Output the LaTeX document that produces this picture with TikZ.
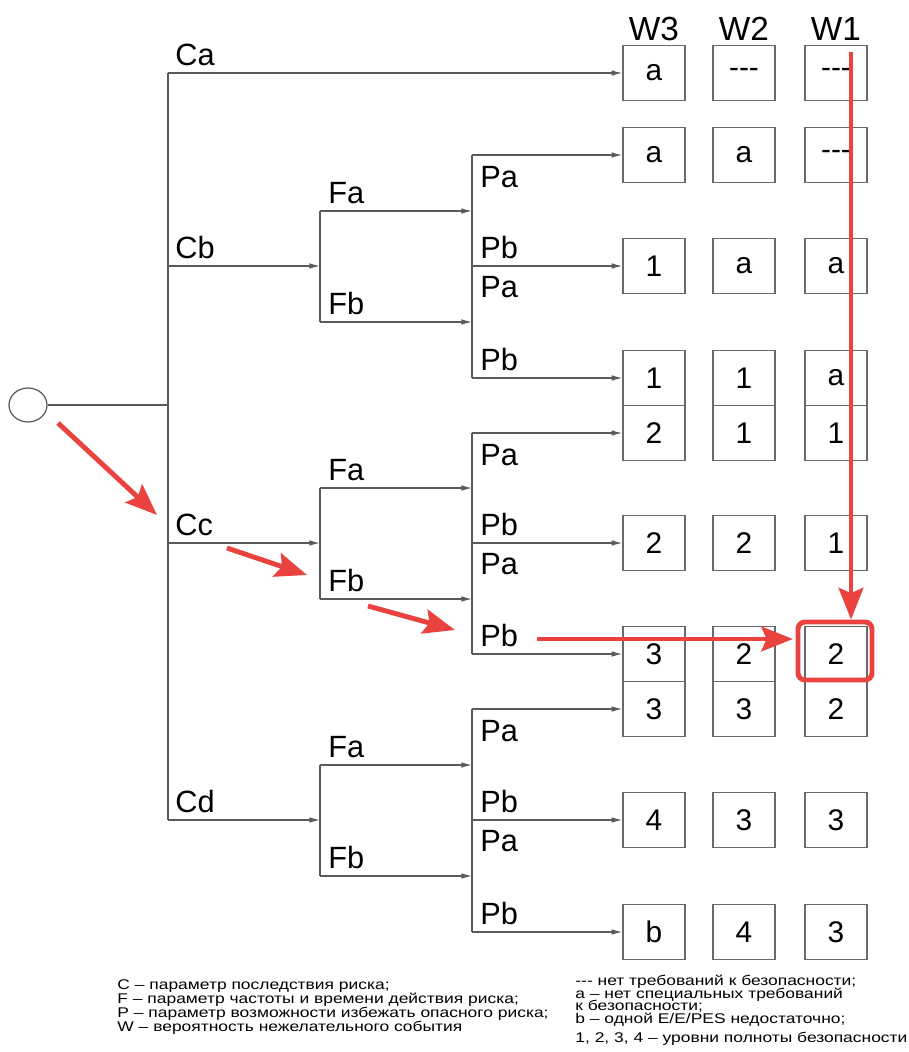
\documentclass[tikz,border=0pt]{standalone}
\usepackage{fontspec}
\setmainfont{Liberation Sans}
\usetikzlibrary{arrows.meta}
\usetikzlibrary{positioning}
\usetikzlibrary{shapes.geometric}

\definecolor{markred}{RGB}{234,66,62}
\definecolor{linegray}{RGB}{90,90,90}
\definecolor{boxgray}{RGB}{105,105,105}

\tikzset{
  branch/.style={draw=linegray, line width=0.7pt},
  branchto/.style={branch, -{Latex[length=6pt,width=3.2pt]}},
  cell/.style={draw=boxgray, line width=0.85pt, minimum width=1.24cm, minimum height=1.1cm, inner sep=0pt, font=\fontsize{17}{17}\selectfont},
  head/.style={inner sep=0pt, font=\fontsize{19}{19}\selectfont},
  tag/.style={inner sep=0pt, anchor=base west, font=\fontsize{17.5}{17.5}\selectfont},
  note/.style={inner sep=0pt, anchor=base west, font=\fontsize{8}{8}\selectfont, xscale=1.24, transform shape},
  hint/.style={draw=markred, line width=2.8pt, -{Stealth[length=18pt,width=14pt,inset=3pt]}},
  hitframe/.style={draw=markred, line width=2.8pt, rounded corners=4pt, minimum width=1.48cm, minimum height=1.16cm, inner sep=0pt},
}

\begin{document}
\begin{tikzpicture}[x=0.02cm,y=-0.02cm]
\useasboundingbox (0,0) rectangle (909,1052);

\node[cell] (r1w3) at (654,73) {a};
\node[cell] (r1w2) at (744,73) {-{}-{}-};
\node[cell] (r1w1) at (836,73) {-{}-{}-};
\node[cell] (r2w3) at (654,155) {a};
\node[cell] (r2w2) at (744,155) {a};
\node[cell] (r2w1) at (836,155) {-{}-{}-};
\node[cell] (r3w3) at (654,266) {1};
\node[cell] (r3w2) at (744,266) {a};
\node[cell] (r3w1) at (836,266) {a};
\node[cell] (r4w3) at (654,378) {1};
\node[cell] (r4w2) at (744,378) {1};
\node[cell] (r4w1) at (836,378) {a};
\node[cell] (r5w3) at (654,433) {2};
\node[cell] (r5w2) at (744,433) {1};
\node[cell] (r5w1) at (836,433) {1};
\node[cell] (r6w3) at (654,543) {2};
\node[cell] (r6w2) at (744,543) {2};
\node[cell] (r6w1) at (836,543) {1};
\node[cell] (r7w3) at (654,654) {3};
\node[cell] (r7w2) at (744,654) {2};
\node[cell] (r7w1) at (836,654) {2};
\node[cell] (r8w3) at (654,709) {3};
\node[cell] (r8w2) at (744,709) {3};
\node[cell] (r8w1) at (836,709) {2};
\node[cell] (r9w3) at (654,820) {4};
\node[cell] (r9w2) at (744,820) {3};
\node[cell] (r9w1) at (836,820) {3};
\node[cell] (r10w3) at (654,932) {b};
\node[cell] (r10w2) at (744,932) {4};
\node[cell] (r10w1) at (836,932) {3};

\node[head, above=0.07cm of r1w3] (hw3) {W3};
\node[head, above=0.07cm of r1w2] (hw2) {W2};
\node[head, above=0.07cm of r1w1] (hw1) {W1};

\node[draw=linegray, line width=0.7pt, ellipse, minimum width=0.76cm, minimum height=0.68cm, inner sep=0pt] (root) at (28,405) {};
\coordinate (c0) at (168,405);
\coordinate (ca) at (168,73);
\coordinate (cb) at (168,266);
\coordinate (cc) at (168,543);
\coordinate (cd) at (168,820);
\draw[branch] (root) -- (c0);
\draw[branch] (ca) -- (cd);
\draw[branchto] (ca) -- (r1w3);

\coordinate (fb) at (320,266);
\coordinate (fab) at (320,211);
\coordinate (fbb) at (320,322);
\coordinate (pab) at (472,211);
\coordinate (pbb) at (472,322);
\coordinate (ptb) at (472,155);
\coordinate (pmb) at (472,266);
\coordinate (pub) at (472,378);
\draw[branchto] (cb) -- (fb);
\draw[branch] (fab) -- (fbb);
\draw[branchto] (fab) -- (pab);
\draw[branchto] (fbb) -- (pbb);
\draw[branch] (ptb) -- (pub);
\draw[branchto] (ptb) -- (r2w3);
\draw[branchto] (pmb) -- (r3w3);
\draw[branchto] (pub) -- (r4w3);

\coordinate (fc) at (320,543);
\coordinate (fac) at (320,488);
\coordinate (fbc) at (320,599);
\coordinate (pac) at (472,488);
\coordinate (pbc) at (472,599);
\coordinate (ptc) at (472,433);
\coordinate (pmc) at (472,543);
\coordinate (puc) at (472,654);
\draw[branchto] (cc) -- (fc);
\draw[branch] (fac) -- (fbc);
\draw[branchto] (fac) -- (pac);
\draw[branchto] (fbc) -- (pbc);
\draw[branch] (ptc) -- (puc);
\draw[branchto] (ptc) -- (r5w3);
\draw[branchto] (pmc) -- (r6w3);
\draw[branchto] (puc) -- (r7w3);

\coordinate (fd) at (320,820);
\coordinate (fad) at (320,765);
\coordinate (fbd) at (320,876);
\coordinate (pad) at (472,765);
\coordinate (pbd) at (472,876);
\coordinate (ptd) at (472,709);
\coordinate (pmd) at (472,820);
\coordinate (pud) at (472,932);
\draw[branchto] (cd) -- (fd);
\draw[branch] (fad) -- (fbd);
\draw[branchto] (fad) -- (pad);
\draw[branchto] (fbd) -- (pbd);
\draw[branch] (ptd) -- (pud);
\draw[branchto] (ptd) -- (r8w3);
\draw[branchto] (pmd) -- (r9w3);
\draw[branchto] (pud) -- (r10w3);

\node[tag] (lca) at (175,65) {Ca};
\node[tag] (lcb) at (175,258) {Cb};
\node[tag] (lcc) at (175,535) {Cc};
\node[tag] (lcd) at (175,812) {Cd};

\node[tag] (lfab) at (328,203) {Fa};
\node[tag] (lfbb) at (328,314) {Fb};
\node[tag] (lpab1) at (480,187) {Pa};
\node[tag] (lpbb1) at (480,258) {Pb};
\node[tag] (lpab2) at (480,297) {Pa};
\node[tag] (lpbb2) at (480,370) {Pb};

\node[tag] (lfac) at (328,480) {Fa};
\node[tag] (lfbc) at (328,591) {Fb};
\node[tag] (lpac1) at (480,465) {Pa};
\node[tag] (lpbc1) at (480,535) {Pb};
\node[tag] (lpac2) at (480,574) {Pa};
\node[tag] (lpbc2) at (480,646) {Pb};

\node[tag] (lfad) at (328,757) {Fa};
\node[tag] (lfbd) at (328,868) {Fb};
\node[tag] (lpad1) at (480,741) {Pa};
\node[tag] (lpbd1) at (480,812) {Pb};
\node[tag] (lpad2) at (480,851) {Pa};
\node[tag] (lpbd2) at (480,924) {Pb};

\node[note] (nc) at (117,989) {C – параметр последствия риска;};
\node[note] (nf) at (117,1003) {F – параметр частоты и времени действия риска;};
\node[note] (np) at (117,1017) {P – параметр возможности избежать опасного риска;};
\node[note] (nw) at (117,1031) {W – вероятность нежелательного события};

\node[note] (nn) at (575,985) {-{}-{}- нет требований к безопасности;};
\node[note] (na1) at (575,998) {a – нет специальных требований};
\node[note] (na2) at (575,1010) {к безопасности;};
\node[note] (nb) at (575,1023) {b – одной E/E/PES недостаточно;};
\node[note] (nl) at (575,1042) {1, 2, 3, 4 – уровни полноты безопасности};

\node[hitframe] (hit) at (835,651) {};
\coordinate (h1s) at (58,423);
\coordinate (h1e) at (157,515);
\coordinate (h2s) at (227,548);
\coordinate (h2e) at (307,575);
\coordinate (h3s) at (368,606);
\coordinate (h3e) at (455,630);
\coordinate (h4s) at (537,639);
\coordinate (h4e) at (793,639);
\coordinate (h5s) at (851,52);
\draw[hint] (h1s) -- (h1e);
\draw[hint] (h2s) -- (h2e);
\draw[hint] (h3s) -- (h3e);
\draw[hint] (h4s) -- (h4e);
\draw[hint] (h5s) -- (h5s |- hit.north);

\end{tikzpicture}
\end{document}
